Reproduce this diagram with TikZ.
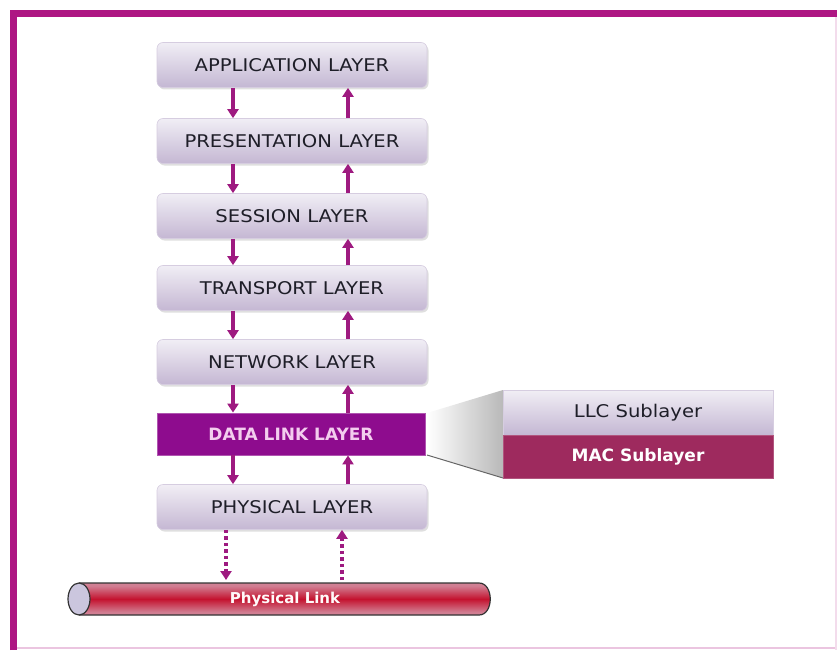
\documentclass[tikz,border=0pt]{standalone}
\usepackage{fontspec}
\newfontfamily\layfont{DejaVu Sans}[FakeStretch=1.12]
\newfontfamily\boldfont{DejaVu Sans}
\usetikzlibrary{arrows.meta,shadows}
\definecolor{frame}{HTML}{AE1683}
\definecolor{arr}{HTML}{9E1A80}
\definecolor{boxtop}{HTML}{F1EEF5}
\definecolor{boxbot}{HTML}{C4B7D3}
\definecolor{dll}{HTML}{8E0C8E}
\definecolor{dlltext}{HTML}{F3CDEE}
\definecolor{mac}{HTML}{9E2A5E}
\definecolor{cablered}{HTML}{C4132F}
\definecolor{cableedge}{HTML}{D6A9BA}
\definecolor{cableend}{HTML}{CBC6DE}
\definecolor{txt}{HTML}{1E1E28}
\pgfdeclareverticalshading{cableshade}{100bp}{color(0bp)=(cableedge); color(30bp)=(cableedge!70!cablered); color(50bp)=(cablered); color(70bp)=(cableedge!70!cablered); color(100bp)=(cableedge)}
\tikzset{
  layerbox/.style={minimum width=270pt, minimum height=45pt, rounded corners=6pt,
    top color=boxtop, bottom color=boxbot, draw=boxbot!70!white, line width=0.6pt,
    drop shadow={shadow xshift=1.5pt, shadow yshift=-2pt, opacity=0.25},
    font=\layfont\fontsize{17.5}{20}\selectfont, text=txt},
  dllbox/.style={minimum width=268pt, minimum height=42pt, fill=dll, draw=dll!70!white,
    line width=0.8pt, font=\boldfont\bfseries\fontsize{17}{20}\selectfont, text=dlltext},
  llcbox/.style={minimum width=270pt, minimum height=45pt,
    top color=boxtop, bottom color=boxbot, draw=boxbot!70!white, line width=0.6pt,
    font=\layfont\fontsize{17.5}{20}\selectfont, text=txt},
  macbox/.style={minimum width=270pt, minimum height=43pt, fill=mac, draw=mac!80!white,
    line width=0.6pt, font=\boldfont\bfseries\fontsize{17}{20}\selectfont, text=white},
  flow/.style={draw=arr, line width=3.6pt, -{Triangle[length=9pt,width=11pt]}},
  dotflow/.style={draw=arr, line width=3.6pt, dash pattern=on 3.5pt off 3pt,
    -{Triangle[length=9pt,width=11pt]}},
}
\begin{document}
\begin{tikzpicture}[x=1pt,y=-1pt]
\useasboundingbox (0,0) rectangle (837,650);
% frame
\draw[frame!25!white, line width=2pt] (13,648) -- (837,648);
\draw[frame!15!white, line width=1.5pt] (836,13) -- (836,650);
\draw[frame, line width=7pt] (13.5,650) -- (13.5,13.5) -- (837,13.5);

% callout trapezoid
\shade[left color=white, right color=gray!55] (427,413) -- (503,390) -- (503,478) -- (427,455) -- cycle;
\draw[gray!80!black, line width=1pt] (427,455) -- (503,478);

% layer boxes
\node[layerbox] (app)   at (292,65)  {APPLICATION LAYER};
\node[layerbox] (pres)  at (292,141) {PRESENTATION LAYER};
\node[layerbox] (sess)  at (292,216) {SESSION LAYER};
\node[layerbox] (trans) at (292,288) {TRANSPORT LAYER};
\node[layerbox] (net)   at (292,362) {NETWORK LAYER};
\node[dllbox]   (dl)    at (291,434) {DATA LINK LAYER};
\node[layerbox] (phys)  at (292,507) {PHYSICAL LAYER};

\node[llcbox] (llc) at (638,412.5) {LLC Sublayer};
\node[macbox] (macs) at (638,456.5) {MAC Sublayer};

\coordinate (dx) at (233,0);
\coordinate (ux) at (348,0);
\foreach \a/\b in {app/pres,pres/sess,sess/trans,trans/net,net/dl,dl/phys}{
  \draw[flow] (\a.south -| dx) -- (\b.north -| dx);
  \draw[flow] (\b.north -| ux) -- (\a.south -| ux);
}

% physical link cable
\shade[shading=cableshade]
  (79,583) -- (479,583) .. controls (494,583) and (494,615) .. (479,615)
  -- (79,615) -- cycle;
\draw[black!80, line width=1.2pt]
  (79,583) -- (479,583) .. controls (494,583) and (494,615) .. (479,615)
  -- (79,615);
\draw[black!80, line width=1.2pt, fill=cableend] (79,599) ellipse[x radius=11, y radius=16];
\node[font=\boldfont\bfseries\fontsize{15}{16}\selectfont, text=white!92!pink] (link) at (285,599) {Physical Link};
\coordinate (ltop) at (0,580);
\draw[dotflow] (phys.south -| 226,0) -- (ltop -| 226,0);
\draw[dotflow] (ltop -| 342,0) -- (phys.south -| 342,0);
\end{tikzpicture}
\end{document}
